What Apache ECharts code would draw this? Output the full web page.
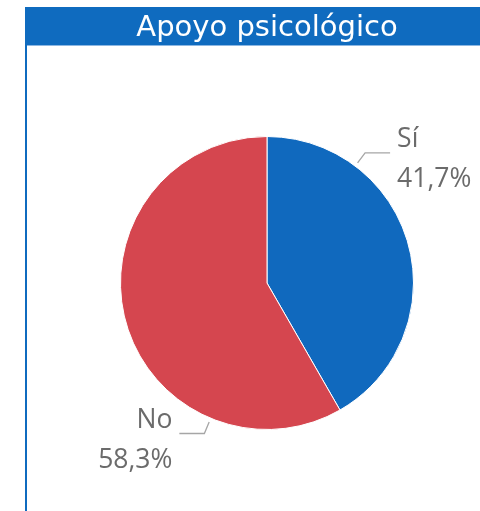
<!DOCTYPE html>
<html>
<head>
<meta charset="utf-8">
<script src="https://cdn.jsdelivr.net/npm/echarts@6/dist/echarts.min.js"></script>
<style>
html,body{margin:0;padding:0;background:#fff;}
#chart{width:480px;height:511px;}
</style>
</head>
<body>
<div id="chart"></div>
<script>
// ---- data ----
const titleText = 'Apoyo psicológico';
const categories = ['Sí', 'No'];
const values = [41.7, 58.3];

// ---- layout / style ----
const CX = 267, CY = 283, R = 146.5;
const anchorAngles = [37, 202.6]; // degrees clockwise from top where label lines start
const colors = ['#1069BE', '#D5464F'];

function fmtPct(v) { return v.toFixed(1).replace('.', ',') + '%'; }

const chart = echarts.init(document.getElementById('chart'), null, { renderer: 'canvas' });

chart.setOption({
  animation: false,
  graphic: [
    { type: 'rect', shape: { x: 25, y: 7, width: 455, height: 39 }, style: { fill: '#0F6BBF' }, z: 1 },
    { type: 'rect', shape: { x: 25, y: 45, width: 455, height: 1 }, style: { fill: '#8DB7E2' }, z: 1 },
    { type: 'rect', shape: { x: 25, y: 7, width: 2, height: 504 }, style: { fill: '#0F6BBF' }, z: 1 },
    { type: 'text', x: 267, y: 28, z: 2,
      style: { text: titleText, fill: '#ffffff', font: '29px "DejaVu Sans"', align: 'center', verticalAlign: 'middle' } }
  ],
  series: [{
    type: 'pie',
    center: [CX, CY],
    radius: R,
    startAngle: 90,
    clockwise: true,
    avoidLabelOverlap: false,
    color: colors,
    itemStyle: { borderColor: '#ffffff', borderWidth: 1 },
    data: categories.map((c, i) => ({ name: c, value: values[i] })),
    label: {
      show: true,
      position: 'outside',
      overflow: 'none',
      alignTo: 'none',
      bleedMargin: 0,
      formatter: p => p.name + '\n' + fmtPct(p.value),
      color: '#6B6B6B',
      fontFamily: '"Open Sans"',
      fontWeight: 'normal',
      fontSize: 26.5,
      lineHeight: 40
    },
    labelLine: { show: true, lineStyle: { color: '#A6A6A6', width: 1.3 } },
    labelLayout: function (params) {
      const a = anchorAngles[params.dataIndex] * Math.PI / 180;
      const s = Math.sin(a), c = Math.cos(a);
      const ax = CX + (R + 4) * s, ay = CY - (R + 4) * c;
      const bx = ax + 12.5 * s, by = ay - 12.5 * c;
      const dir = s >= 0 ? 1 : -1;
      const ex = bx + dir * 25;
      return {
        x: ex + dir * 7,
        y: by + 7,
        align: dir > 0 ? 'left' : 'right',
        verticalAlign: 'middle',
        labelLinePoints: [[ax, ay], [bx, by], [ex, by]]
      };
    }
  }]
});
</script>
</body>
</html>
